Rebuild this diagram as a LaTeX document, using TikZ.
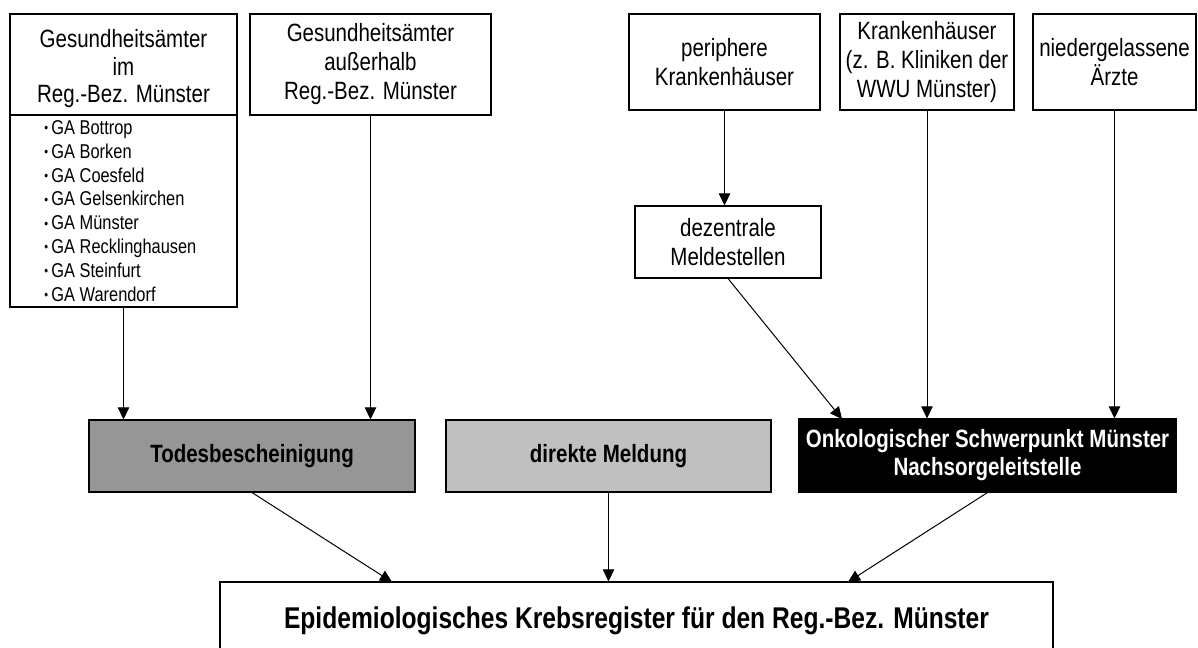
\documentclass[tikz,border=0pt]{standalone}
\usepackage{fontspec}
\setmainfont[FakeStretch=0.82]{Liberation Sans}
\usetikzlibrary{arrows.meta}
\definecolor{todesgray}{RGB}{150,150,150}
\definecolor{direktgray}{RGB}{192,192,192}
\newcommand\gabullet{\raisebox{1.2pt}{\fontsize{10}{10}\selectfont •}\hspace{2.5pt}}
\tikzset{
  box/.style={draw, line width=0.8pt, inner sep=0pt, align=center,
    font=\fontsize{18.75}{21.75}\selectfont},
  midbox/.style={box, font=\bfseries\fontsize{18.75}{21}\selectfont},
  arr/.style={line width=0.75pt, -{Triangle[length=9pt,width=8.5pt]}},
}
\begin{document}
\begin{tikzpicture}[x=0.75pt,y=-0.75pt]
\useasboundingbox (0,0) rectangle (1198,648);
% top row
\node[box, minimum width=170.25pt, minimum height=75.75pt] (L1) at (123.5,64.5) {};
\node[align=center, inner sep=0pt, font=\fontsize{18.75}{20.6}\selectfont] (L1t) at (123.5,69)
  {Gesundheitsämter\\im\\Reg.-Bez. Münster};
\node[box, minimum width=170.25pt, minimum height=144pt] (L2) at (123.5,211) {};
\node[align=left, inner sep=0pt, anchor=west, font=\fontsize{15}{17.85}\selectfont] (L2t) at (44,211)
  {\gabullet GA Bottrop\\ \gabullet GA Borken\\ \gabullet GA Coesfeld\\ \gabullet GA Gelsenkirchen\\
   \gabullet GA Münster\\ \gabullet GA Recklinghausen\\ \gabullet GA Steinfurt\\ \gabullet GA Warendorf};
\node[box, minimum width=180.75pt, minimum height=75.75pt] (B2) at (370.5,64.5)
  {Gesundheitsämter\\außerhalb\\Reg.-Bez. Münster};
\node[box, minimum width=143.25pt, minimum height=72pt] (P) at (724.5,62)
  {periphere\\Krankenhäuser};
\node[box, minimum width=130.5pt, minimum height=72pt] (K) at (927,62)
  {Krankenhäuser\\(z. B. Kliniken der\\WWU Münster)};
\node[box, minimum width=122.25pt, minimum height=72pt] (N) at (1114.5,62)
  {niedergelassene\\Ärzte};
\node[box, minimum width=139.5pt, minimum height=54pt] (D) at (728,242)
  {dezentrale\\Meldestellen};
% middle row
\node[midbox, fill=todesgray, minimum width=244.5pt, minimum height=54pt] (T) at (252,456)
  {Todesbescheinigung};
\node[midbox, fill=direktgray, minimum width=243.75pt, minimum height=54pt] (M) at (608.5,456)
  {direkte Meldung};
\node[midbox, fill=black, text=white, minimum width=282.75pt, minimum height=54.75pt] (O) at (987.5,455.5)
  {Onkologischer Schwerpunkt Münster\\Nachsorgeleitstelle};
% bottom
\node[box, font=\bfseries\fontsize{22.5}{26}\selectfont, minimum width=624.75pt, minimum height=58.5pt] (E) at (636.5,621)
  {Epidemiologisches Krebsregister für den Reg.-Bez. Münster};
% connector end points
\coordinate (oin) at (842,419);
\coordinate (ein1) at (392,582);
\coordinate (ein3) at (848,582);
% connectors
\draw[arr] (L2.south) -- (L2.south |- T.north);
\draw[arr] (B2.south) -- (B2.south |- T.north);
\draw[arr] (P.south) -- (P.south |- D.north);
\draw[arr] (D.south) -- (oin);
\draw[arr] (K.south) -- (K.south |- O.north);
\draw[arr] (N.south) -- (N.south |- O.north);
\draw[arr] (T.south) -- (ein1);
\draw[arr] (M.south) -- (M.south |- E.north);
\draw[arr] (O.south) -- (ein3);
\end{tikzpicture}
\end{document}
